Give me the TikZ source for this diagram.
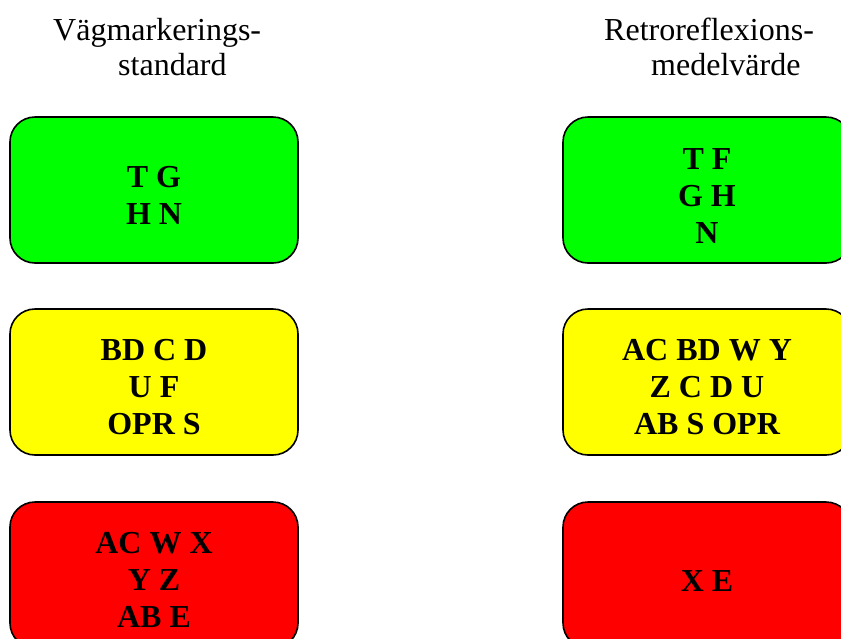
\documentclass[tikz,border=0pt]{standalone}
\usepackage{fontspec}
\setmainfont{Liberation Serif}
% taller first line pushes the text block a little lower in its box
\newcommand{\toppad}{\rule{0pt}{32pt}}
\begin{document}
\begin{tikzpicture}[x=1pt,y=-1pt,
  panel/.style={draw=black, line width=1.6pt, rounded corners=25pt,
    minimum width=288pt, minimum height=146pt, align=center,
    inner sep=0pt, font=\fontsize{32}{37}\selectfont\bfseries},
  heading/.style={anchor=base west, inner sep=0pt,
    font=\fontsize{32}{35}\selectfont}]
\useasboundingbox (0,0) rectangle (841,638);
\clip (0,0) rectangle (841,638);
\definecolor{lvlgreen}{RGB}{0,255,0}
\definecolor{lvlyellow}{RGB}{255,255,0}
\definecolor{lvlred}{RGB}{255,0,0}

% column headings
\node[heading] (hL1) at (53,40) {Vägmarkerings-};
\node[heading] (hL2) at (118,75) {standard};
\node[heading] (hR1) at (604,40) {Retroreflexions-};
\node[heading] (hR2) at (651,75) {medelvärde};

% left column
\node[panel, fill=lvlgreen]  (gL) at (154,190) {\toppad T G\\H N};
\node[panel, fill=lvlyellow] (yL) at (154,382) {\toppad BD C D\\U F\\OPR S};
\node[panel, fill=lvlred]    (rL) at (154,575) {\toppad AC W X\\Y Z\\AB E};

% right column
\node[panel, fill=lvlgreen]  (gR) at (707,190) {\toppad T F\\G H\\N};
\node[panel, fill=lvlyellow] (yR) at (707,382) {\toppad AC BD W Y\\Z C D U\\AB S OPR};
\node[panel, fill=lvlred]    (rR) at (707,575) {\toppad X E};
\end{tikzpicture}
\end{document}
